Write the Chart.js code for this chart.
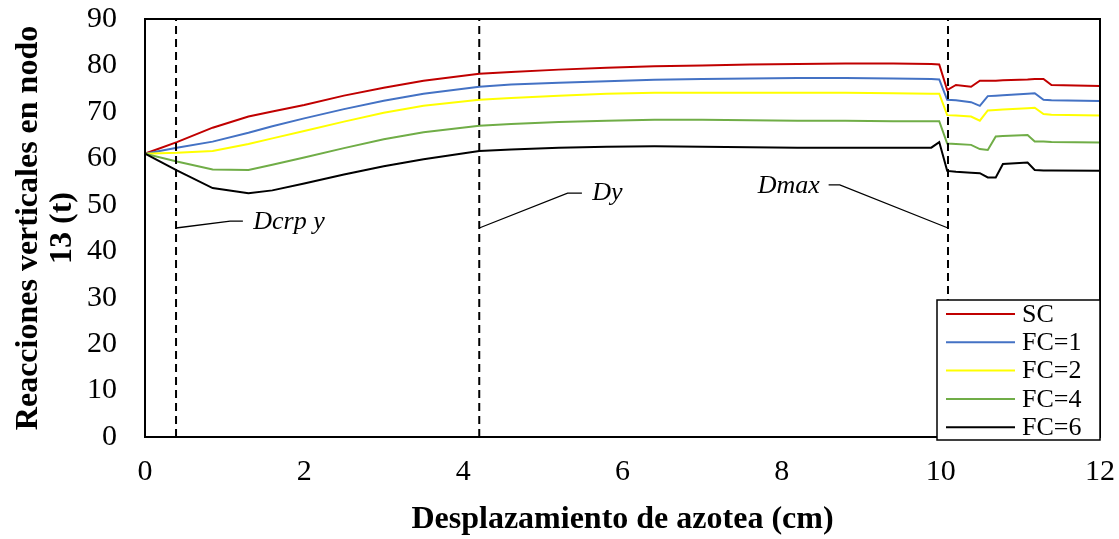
<!DOCTYPE html>
<html>
<head>
<meta charset="utf-8">
<script src="https://cdn.jsdelivr.net/npm/chart.js@4"></script>
<style>
  html, body { margin: 0; padding: 0; background: #ffffff; }
  #wrap { width: 1119px; height: 539px; position: relative; }
</style>
</head>
<body>
<div id="wrap"><canvas id="chart"></canvas></div>
<script>
// Roof displacement (cm) shared by every curve
const displacement = [0, 0.4, 0.85, 1.3, 1.6, 2.0, 2.5, 3.0, 3.5, 4.2, 4.6, 5.2, 5.8, 6.4, 7.0, 7.6, 8.2, 8.8, 9.4, 9.88, 9.98, 10.08, 10.19, 10.38, 10.49, 10.59, 10.69, 10.78, 11.09, 11.18, 11.29, 11.39, 12.0];

// Vertical reaction at node 13 (t) for each load case
const sc  = [61, 63.5, 66.6, 69.0, 70.1, 71.5, 73.5, 75.2, 76.7, 78.2, 78.6, 79.1, 79.5, 79.8, 80.0, 80.2, 80.3, 80.4, 80.4, 80.3, 80.2, 74.7, 75.8, 75.4, 76.7, 76.7, 76.7, 76.8, 77.0, 77.1, 77.1, 75.8, 75.6];
const fc1 = [61, 62.3, 63.6, 65.5, 66.9, 68.6, 70.6, 72.4, 73.9, 75.4, 75.9, 76.3, 76.6, 76.9, 77.1, 77.2, 77.3, 77.3, 77.2, 77.1, 77.0, 72.6, 72.5, 72.1, 71.3, 73.4, 73.5, 73.6, 73.9, 74.0, 72.6, 72.5, 72.35];
const fc2 = [61, 61.2, 61.6, 63.1, 64.3, 65.9, 67.9, 69.8, 71.3, 72.6, 73.0, 73.5, 73.9, 74.1, 74.1, 74.1, 74.1, 74.1, 74.0, 73.9, 73.9, 69.3, 69.2, 69.0, 68.1, 70.3, 70.4, 70.5, 70.8, 70.9, 69.55, 69.4, 69.2];
const fc4 = [61, 59.3, 57.6, 57.5, 58.6, 60.2, 62.2, 64.1, 65.6, 67.0, 67.4, 67.8, 68.1, 68.3, 68.3, 68.2, 68.1, 68.1, 68.0, 68.0, 68.0, 63.2, 63.1, 62.9, 62.0, 61.8, 64.7, 64.8, 65.0, 63.6, 63.6, 63.5, 63.4];
const fc6 = [61, 57.4, 53.6, 52.5, 53.1, 54.6, 56.5, 58.3, 59.8, 61.6, 61.9, 62.3, 62.5, 62.6, 62.5, 62.4, 62.3, 62.3, 62.3, 62.3, 63.5, 57.3, 57.1, 56.9, 56.8, 55.9, 55.9, 58.8, 59.1, 57.5, 57.4, 57.4, 57.3];

const seriesLabels = ['SC', 'FC=1', 'FC=2', 'FC=4', 'FC=6'];
const seriesValues = [sc, fc1, fc2, fc4, fc6];
const seriesColors = ['#C00000', '#4472C4', '#FFFF00', '#70AD47', '#000000'];

// Axis ranges and tick steps
const xTicks = [0, 2, 4, 6, 8, 10, 12];
const yTicks = [0, 10, 20, 30, 40, 50, 60, 70, 80, 90];

// Characteristic displacements (dashed verticals) and their callouts
const markerNames = ['Dcrp y', 'Dy', 'Dmax'];
const markerX = [0.39, 4.2, 10.09];
const leaderX = [[0.39, 1.07, 1.23], [4.2, 5.31, 5.49], [10.09, 8.73, 8.59]];
const leaderY = [[45.0, 46.5, 46.5], [45.0, 52.5, 52.5], [45.0, 54.3, 54.3]];
const labelX = [1.36, 5.62, 8.48];
const labelY = [46.3, 52.5, 53.9];
const labelAlign = ['left', 'left', 'right'];

const datasets = seriesLabels.map((name, i) => ({
  label: name,
  data: displacement.map((d, k) => ({ x: d, y: seriesValues[i][k] })),
  borderColor: seriesColors[i],
  backgroundColor: seriesColors[i],
  borderWidth: 2,
  pointRadius: 0,
  tension: 0,
  showLine: true,
  order: 5 - i
}));

markerX.forEach((mx, i) => {
  datasets.push({
    label: '_marker' + i,
    data: [{ x: mx, y: yTicks[0] }, { x: mx, y: yTicks[yTicks.length - 1] }],
    borderColor: '#000000',
    borderWidth: 2,
    borderDash: [8, 5],
    pointRadius: 0,
    showLine: true
  });
  datasets.push({
    label: '_leader' + i,
    data: leaderX[i].map((lx, k) => ({ x: lx, y: leaderY[i][k] })),
    borderColor: '#000000',
    borderWidth: 1.3,
    pointRadius: 0,
    showLine: true
  });
});

const serif = "'Liberation Serif', 'Times New Roman', serif";

const decorations = {
  id: 'decorations',
  afterDatasetsDraw(chart) {
    const { ctx, chartArea: a, scales } = chart;
    ctx.save();
    // plot frame
    ctx.strokeStyle = '#000';
    ctx.lineWidth = 2;
    ctx.strokeRect(a.left, a.top, a.right - a.left, a.bottom - a.top);

    // callout labels
    ctx.fillStyle = '#000';
    ctx.font = 'italic 26px ' + serif;
    ctx.textBaseline = 'middle';
    markerNames.forEach((t, i) => {
      ctx.textAlign = labelAlign[i];
      ctx.fillText(t, scales.x.getPixelForValue(labelX[i]), scales.y.getPixelForValue(labelY[i]));
    });

    // legend box
    const bw = 163, bh = 140;
    const bx = a.right - bw, by = a.bottom + 3 - bh;
    ctx.fillStyle = '#fff';
    ctx.fillRect(bx, by, bw, bh);
    ctx.lineWidth = 1.5;
    ctx.strokeRect(bx, by, bw, bh);
    ctx.font = '26px ' + serif;
    ctx.textAlign = 'left';
    seriesLabels.forEach((name, i) => {
      const ry = by + 14 + i * 28.3;
      ctx.strokeStyle = seriesColors[i];
      ctx.lineWidth = 2;
      ctx.beginPath();
      ctx.moveTo(bx + 9, ry);
      ctx.lineTo(bx + 78, ry);
      ctx.stroke();
      ctx.fillStyle = '#000';
      ctx.fillText(name, bx + 85, ry + 1);
    });

    // axis titles
    ctx.font = 'bold 32px ' + serif;
    ctx.textAlign = 'center';
    ctx.fillText('Desplazamiento de azotea (cm)', (a.left + a.right) / 2, 520);
    ctx.translate(0, (a.top + a.bottom) / 2);
    ctx.rotate(-Math.PI / 2);
    ctx.fillText('Reacciones verticales en nodo', 0, 29);
    ctx.fillText('13 (t)', 0, 63);
    ctx.restore();
  }
};

new Chart(document.getElementById('chart'), {
  type: 'scatter',
  data: { datasets },
  options: {
    responsive: true,
    maintainAspectRatio: false,
    animation: false,
    layout: { padding: { top: 19, right: 19, left: 0, bottom: 0 } },
    plugins: { legend: { display: false }, tooltip: { enabled: false } },
    scales: {
      x: {
        type: 'linear',
        min: xTicks[0],
        max: xTicks[xTicks.length - 1],
        grid: { display: false },
        border: { display: false },
        afterFit(s) { s.height = 102; s.paddingLeft = 0; s.paddingRight = 0; },
        afterBuildTicks(s) { s.ticks = xTicks.map(v => ({ value: v })); },
        ticks: { color: '#000', padding: 9, font: { family: serif, size: 30 }, maxRotation: 0 }
      },
      y: {
        type: 'linear',
        min: yTicks[0],
        max: yTicks[yTicks.length - 1],
        grid: { display: false },
        border: { display: false },
        afterFit(s) { s.width = 145; s.paddingTop = 0; s.paddingBottom = 0; },
        afterBuildTicks(s) { s.ticks = yTicks.map(v => ({ value: v })); },
        ticks: { color: '#000', padding: 20, font: { family: serif, size: 30 } }
      }
    }
  },
  plugins: [decorations]
});
</script>
</body>
</html>
